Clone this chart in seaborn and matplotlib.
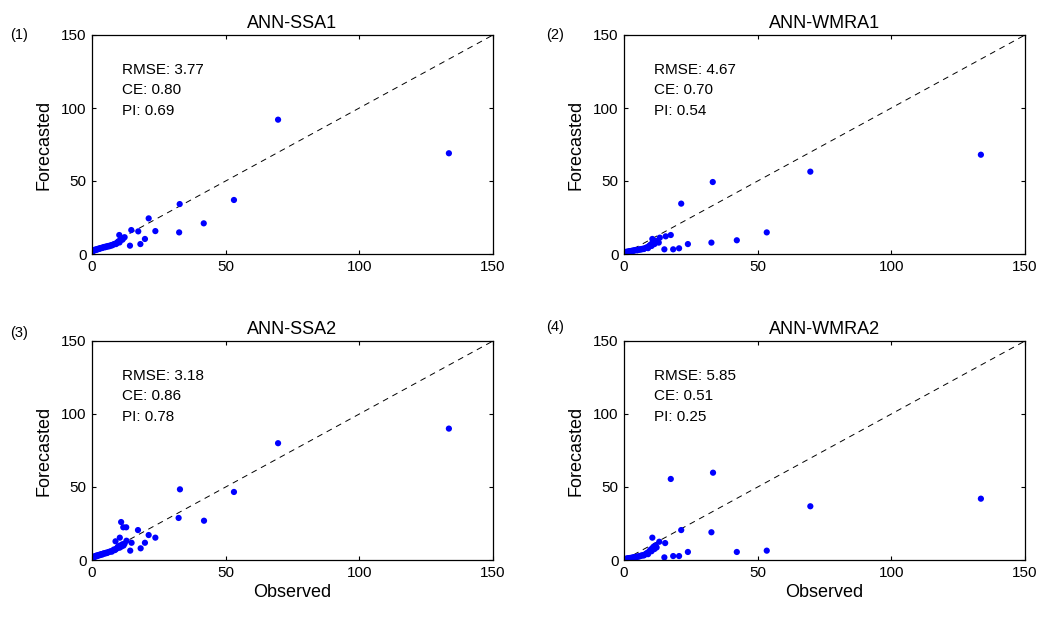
import matplotlib
matplotlib.use("Agg")
import matplotlib.pyplot as plt
import seaborn as sns
import pandas as pd

sns.set_style("ticks")
plt.rcParams['font.family'] = ['Liberation Sans', 'DejaVu Sans']
plt.rcParams.update({"text.color": "black", "axes.labelcolor": "black",
                     "xtick.color": "black", "ytick.color": "black",
                     "axes.edgecolor": "black"})

titles = ["ANN-SSA1", "ANN-WMRA1", "ANN-SSA2", "ANN-WMRA2"]
panel_tags = ["(1)", "(2)", "(3)", "(4)"]
rmse = ["3.77", "4.67", "3.18", "5.85"]
ce = ["0.80", "0.70", "0.86", "0.51"]
pi = ["0.69", "0.54", "0.78", "0.25"]

obs_small = [0.2, 0.4, 0.6, 0.8, 1.0, 1.3, 1.5, 1.8, 2.0, 2.3, 2.6, 2.9, 3.2, 3.5,
             3.8, 4.1, 4.5, 4.9, 5.3, 5.7, 6.1, 6.5, 7.0, 7.4, 7.8, 8.2, 8.6, 9.0,
             9.3, 9.6, 10.0, 10.3, 10.6, 11.0, 11.4, 11.8, 12.2]

fc_small_1 = [1.8, 2.2, 2.5, 2.4, 2.9, 2.7, 3.1, 3.0, 3.4, 3.3, 3.8, 3.6, 4.0, 4.2,
              4.1, 4.5, 4.8, 4.6, 5.2, 5.0, 5.5, 5.3, 6.0, 5.8, 6.4, 6.6, 7.0, 6.8,
              7.5, 8.2, 8.8, 7.9, 9.5, 10.2, 9.8, 11.0, 11.5]
fc_small_2 = [1.0, 1.2, 1.1, 1.5, 1.3, 1.6, 1.4, 1.8, 1.7, 2.0, 1.9, 2.2, 2.1, 2.4,
              2.3, 2.6, 2.8, 2.5, 3.0, 2.9, 3.3, 3.1, 3.6, 3.4, 3.9, 4.2, 4.6, 4.0,
              5.2, 5.8, 6.5, 5.5, 7.4, 8.0, 6.8, 9.0, 8.2]
fc_small_3 = [1.5, 1.8, 2.2, 2.0, 2.5, 2.4, 2.9, 2.6, 3.2, 3.0, 3.5, 3.3, 3.8, 4.0,
              3.7, 4.3, 4.6, 4.4, 5.0, 4.8, 5.4, 5.6, 6.0, 5.7, 6.5, 7.2, 6.8, 7.5,
              8.0, 8.8, 9.5, 8.4, 10.0, 9.2, 10.8, 9.9, 11.2]
fc_small_4 = [0.5, 0.7, 0.6, 0.9, 0.8, 1.0, 1.1, 1.2, 1.0, 1.4, 1.3, 1.6, 1.5, 1.8,
              1.7, 2.0, 2.2, 2.1, 2.5, 2.4, 2.8, 3.0, 3.3, 3.1, 3.7, 4.2, 4.8, 4.0,
              5.5, 6.3, 7.2, 6.0, 8.0, 9.0, 7.5, 10.0, 8.6]

obs_big_1 = [133.5, 69.6, 53.1, 41.8, 32.6, 32.8, 23.7, 21.2, 19.8, 18.1, 17.3, 14.7, 14.2, 10.2]
fc_big_1 = [69.0, 92.0, 37.0, 21.0, 14.8, 34.2, 15.7, 24.4, 10.3, 6.8, 15.5, 16.4, 5.7, 13.0]

obs_big_2 = [133.5, 69.7, 33.2, 21.4, 53.4, 42.2, 32.7, 23.9, 20.6, 18.4, 15.1, 17.5, 15.6, 13.4, 13.0, 10.6]
fc_big_2 = [68.0, 56.4, 49.3, 34.5, 14.8, 9.4, 7.8, 6.8, 3.9, 3.2, 3.2, 13.0, 12.1, 11.2, 7.8, 10.3]

obs_big_3 = [133.5, 69.6, 32.9, 53.1, 32.4, 41.9, 10.9, 11.7, 12.8, 17.2, 21.2, 23.7, 10.4, 8.8,
             12.9, 14.8, 19.8, 18.2, 14.3]
fc_big_3 = [90.0, 80.0, 48.4, 46.6, 28.8, 26.9, 26.0, 22.4, 22.4, 20.5, 17.1, 15.3, 15.3, 12.8,
            13.2, 11.8, 11.8, 8.0, 6.4]

obs_big_4 = [133.5, 69.7, 17.5, 33.3, 21.4, 32.7, 53.4, 42.2, 23.9, 20.6, 18.4, 15.1, 15.4, 13.2, 10.6]
fc_big_4 = [42.0, 36.8, 55.5, 59.8, 20.5, 19.0, 6.4, 5.5, 5.5, 2.7, 2.7, 1.8, 11.6, 12.5, 15.3]

fc_small = [fc_small_1, fc_small_2, fc_small_3, fc_small_4]
obs_big = [obs_big_1, obs_big_2, obs_big_3, obs_big_4]
fc_big = [fc_big_1, fc_big_2, fc_big_3, fc_big_4]

ticks = [0, 50, 100, 150]

fig = plt.figure(figsize=(10.5, 6.17), dpi=100)
W, H = 1050.0, 617.0
lefts = [92, 624, 92, 624]
tops = [35, 35, 341, 341]
aw, ah = 401, 219
tag_pos = [(10, 35), (546, 35), (10, 333), (546, 327)]

for i in range(4):
    ax = fig.add_axes([lefts[i] / W, 1 - (tops[i] + ah) / H, aw / W, ah / H])
    df = pd.DataFrame({"Observed": obs_small + obs_big[i],
                       "Forecasted": fc_small[i] + fc_big[i]})
    ax.plot([0, 150], [0, 150], linestyle=(0, (6, 5)), color="black", linewidth=0.7, zorder=1)
    sns.scatterplot(data=df, x="Observed", y="Forecasted", ax=ax, color=(0, 0, 1),
                    s=20, edgecolor="none", linewidth=0, zorder=2)
    ax.set_xlim(0, 150)
    ax.set_ylim(0, 150)
    ax.set_xticks(ticks)
    ax.set_yticks(ticks)
    ax.tick_params(direction="in", top=True, right=True, labelsize=11, length=3,
                   width=0.8, pad=4)
    for sp in ax.spines.values():
        sp.set_visible(True)
        sp.set_linewidth(0.9)
    ax.set_title(titles[i], fontsize=13, pad=5)
    ax.set_ylabel("Forecasted", fontsize=13, labelpad=6)
    if i >= 2:
        ax.set_xlabel("Observed", fontsize=13, labelpad=3)
    else:
        ax.set_xlabel("")
    ax.text(11.2, 126, "RMSE: " + rmse[i], fontsize=11, va="center", ha="left")
    ax.text(11.2, 112, "CE: " + ce[i], fontsize=11, va="center", ha="left")
    ax.text(11.2, 98, "PI: " + pi[i], fontsize=11, va="center", ha="left")
    fig.text(tag_pos[i][0] / W, 1 - tag_pos[i][1] / H, panel_tags[i], fontsize=10.5,
             ha="left", va="center")

fig.savefig("out.png", dpi=100)
